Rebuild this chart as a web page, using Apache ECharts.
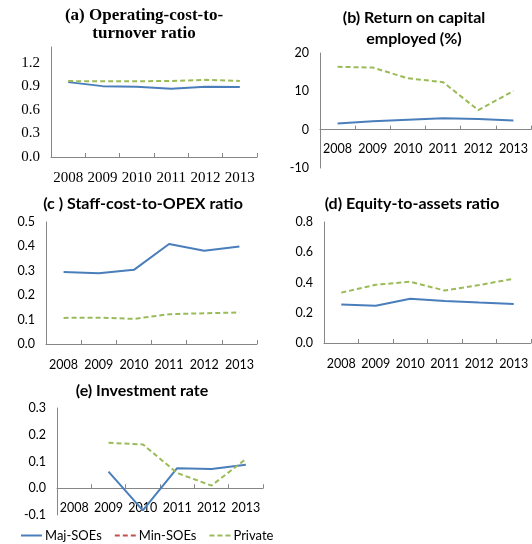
<!DOCTYPE html>
<html>
<head>
<meta charset="utf-8">
<script src="https://cdn.jsdelivr.net/npm/echarts@6/dist/echarts.min.js"></script>
<style>
  html, body { margin: 0; padding: 0; background: #fff; }
  #main { width: 532px; height: 544px; }
</style>
</head>
<body>
<div id="main"></div>
<script>
var years = ['2008', '2009', '2010', '2011', '2012', '2013'];

// (a) operating-cost-to-turnover ratio
var opCostMaj = [0.953, 0.902, 0.895, 0.868, 0.893, 0.89];
var opCostPriv = [0.966, 0.964, 0.964, 0.968, 0.982, 0.968];
// (b) return on capital employed (%)
var roceMaj = [1.6, 2.2, 2.6, 3.0, 2.8, 2.4];
var rocePriv = [16.4, 16.2, 13.4, 12.4, 5.1, 10.1];
// (c) staff-cost-to-OPEX ratio
var staffMaj = [0.295, 0.29, 0.304, 0.41, 0.382, 0.40];
var staffPriv = [0.107, 0.108, 0.103, 0.122, 0.126, 0.129];
// (d) equity-to-assets ratio
var equityMaj = [0.255, 0.246, 0.293, 0.278, 0.267, 0.258];
var equityPriv = [0.333, 0.385, 0.405, 0.347, 0.383, 0.425];
// (e) investment rate
var invMaj = [null, 0.062, -0.083, 0.075, 0.072, 0.088];
var invPriv = [null, 0.170, 0.164, 0.057, 0.010, 0.109];
// Min-SOEs only shows up in the legend
var minSoe = [null, null, null, null, null, null];

var blue = '#4A7EBB';
var red = '#C0504D';
var green = '#9BBB59';
var axisGrey = '#868686';
var sans = 'Lato, "Open Sans", sans-serif';
var serif = '"Liberation Serif", "DejaVu Serif", serif';

var grids = [
    {left: 51, top: 47, width: 206, height: 110},
    {left: 320, top: 53, width: 211, height: 115},
    {left: 46, top: 222, width: 211, height: 122},
    {left: 324, top: 222, width: 207, height: 121},
    {left: 57, top: 408, width: 206, height: 107}
];

var yRanges = [
    {min: 0, max: 1.4, interval: 0.3, dec: 1, top: 1.2},
    {min: -10, max: 20, interval: 10, dec: 0, top: 20},
    {min: 0, max: 0.5, interval: 0.1, dec: 1, top: 0.5},
    {min: 0, max: 0.8, interval: 0.2, dec: 1, top: 0.8},
    {min: -0.1, max: 0.3, interval: 0.1, dec: 1, top: 0.3}
];

// panels whose x axis crosses at zero: labels go on a separate label-only axis
var zeroCross = {1: {offset: -37.7, margin: 12}, 4: {offset: -26.75, margin: 13}};

var xAxes = [];
var yAxes = [];
for (var i = 0; i < grids.length; i++) {
    var font = i === 0 ? serif : sans;
    var fsize = i === 0 ? 15 : 12.5;
    var zc = zeroCross[i];
    xAxes.push({
        type: 'category',
        gridIndex: i,
        data: years,
        boundaryGap: true,
        axisLine: {onZero: true, lineStyle: {color: axisGrey, width: 1}},
        axisTick: {show: true, inside: true, length: 4, lineStyle: {color: axisGrey}},
        axisLabel: {show: !zc, color: '#000', fontFamily: font, fontSize: fsize, margin: 14, interval: 0},
        splitLine: {show: false}
    });
    (function (r) {
        yAxes.push({
            type: 'value',
            gridIndex: i,
            min: r.min,
            max: r.max,
            interval: r.interval,
            axisLine: {show: true, lineStyle: {color: axisGrey, width: 1}},
            axisTick: {show: false},
            splitLine: {show: false},
            axisLabel: {
                color: '#000', fontFamily: font, fontSize: fsize, margin: 11,
                formatter: function (v) {
                    if (v > r.top + 1e-9) return '';
                    return v.toFixed(r.dec);
                }
            }
        });
    })(yRanges[i]);
}
// label-only axes placed under the zero line
for (var k in zeroCross) {
    xAxes.push({
        type: 'category',
        gridIndex: +k,
        data: years,
        position: 'bottom',
        offset: zeroCross[k].offset,
        boundaryGap: true,
        axisLine: {show: false, onZero: false},
        axisTick: {show: false},
        axisLabel: {color: '#000', fontFamily: sans, fontSize: 12.5, margin: zeroCross[k].margin, interval: 0},
        splitLine: {show: false}
    });
}

function mkLine(name, data, idx, color, dashed) {
    return {
        name: name,
        type: 'line',
        xAxisIndex: idx,
        yAxisIndex: idx,
        data: data,
        symbol: 'none',
        connectNulls: false,
        lineStyle: {color: color, width: 2, type: dashed ? [5, 3] : 'solid'},
        itemStyle: {color: color}
    };
}

var series = [
    mkLine('Maj-SOEs', opCostMaj, 0, blue, false),
    mkLine('Private', opCostPriv, 0, green, true),
    mkLine('Maj-SOEs', roceMaj, 1, blue, false),
    mkLine('Private', rocePriv, 1, green, true),
    mkLine('Maj-SOEs', staffMaj, 2, blue, false),
    mkLine('Private', staffPriv, 2, green, true),
    mkLine('Maj-SOEs', equityMaj, 3, blue, false),
    mkLine('Private', equityPriv, 3, green, true),
    mkLine('Maj-SOEs', invMaj, 4, blue, false),
    mkLine('Min-SOEs', minSoe, 4, red, true),
    mkLine('Private', invPriv, 4, green, true)
];

function mkTitle(text, x, y, font, size, lh) {
    return {
        text: text,
        left: x,
        top: y,
        textAlign: 'center',
        padding: 0,
        textStyle: {fontFamily: font, fontSize: size, fontWeight: 'bold', color: '#000', lineHeight: lh}
    };
}

var myChart = echarts.init(document.getElementById('main'));
var option = {
    backgroundColor: '#fff',
    animation: false,
    title: [
        mkTitle('(a) Operating-cost-to-\nturnover ratio', 144, 7, serif, 17, 18),
        mkTitle('(b) Return on capital\nemployed (%)', 414, 7, sans, 16, 21),
        mkTitle('(c ) Staff-cost-to-OPEX ratio', 143, 194, sans, 16, 19),
        mkTitle('(d) Equity-to-assets ratio', 412, 194, sans, 16, 19),
        mkTitle('(e) Investment rate', 142, 381, sans, 16, 19)
    ],
    legend: {
        data: ['Maj-SOEs', 'Min-SOEs', 'Private'],
        left: 20,
        top: 529,
        padding: 0,
        itemWidth: 21,
        itemHeight: 10,
        itemGap: 12,
        itemStyle: {opacity: 0},
        textStyle: {fontFamily: sans, fontSize: 13, color: '#000', padding: [0, 0, 0, -2]}
    },
    grid: grids,
    xAxis: xAxes,
    yAxis: yAxes,
    series: series
};
myChart.setOption(option, true);
</script>
</body>
</html>
